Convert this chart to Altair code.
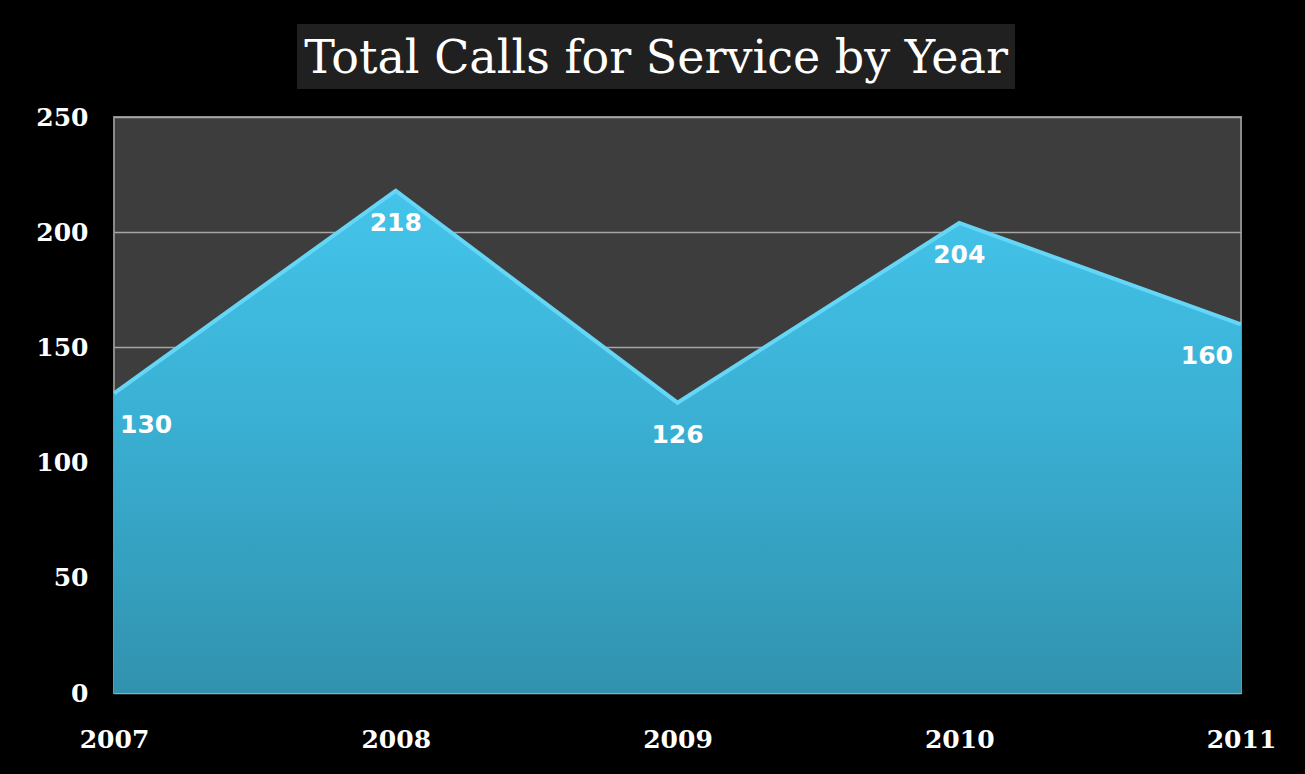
import altair as alt
import pandas as pd

years = ["2007", "2008", "2009", "2010", "2011"]
calls = [130, 218, 126, 204, 160]
title_text = "Total Calls for Service by Year"

df = pd.DataFrame({"year": years, "calls": calls})

W, H = 1127, 576

xenc = alt.X("year:O", scale=alt.Scale(type="point", padding=0),
             axis=alt.Axis(title=None, labelAngle=0, ticks=False, domain=False,
                           labelPadding=34, grid=False))
yenc = alt.Y("calls:Q", scale=alt.Scale(domain=[0, 250], nice=False),
             axis=alt.Axis(title=None, values=[0, 50, 100, 150, 200, 250],
                           ticks=False, domain=False, labelPadding=26,
                           gridColor="#a6a6a6", gridWidth=1.3, gridOpacity=1))

base = alt.Chart(df)

area = base.mark_area(
    color=alt.Gradient(
        gradient="linear",
        stops=[alt.GradientStop(color="#44c4ea", offset=0),
               alt.GradientStop(color="#3ab0d4", offset=0.45),
               alt.GradientStop(color="#3192ae", offset=1)],
        x1=0, x2=0, y1=0, y2=1),
    opacity=1
).encode(x=xenc, y=yenc)

edge = base.mark_line(color="#66d6f6", strokeWidth=4).encode(
    x=alt.X("year:O", scale=alt.Scale(type="point", padding=0)),
    y=alt.Y("calls:Q"))

lab_font = dict(font="DejaVu Sans", fontSize=25, fontWeight="bold", color="white",
                baseline="middle", dy=32)
lab_first = base.transform_filter(alt.datum.year == years[0]).mark_text(
    align="left", dx=6, **lab_font).encode(x="year:O", y="calls:Q", text="calls:Q")
lab_mid = base.transform_filter(
    (alt.datum.year != years[0]) & (alt.datum.year != years[-1])).mark_text(
    align="center", **lab_font).encode(x="year:O", y="calls:Q", text="calls:Q")
lab_last = base.transform_filter(alt.datum.year == years[-1]).mark_text(
    align="right", dx=-8, **lab_font).encode(x="year:O", y="calls:Q", text="calls:Q")

tdf = pd.DataFrame({"t": [title_text]})
title_box = alt.Chart(tdf).mark_rect(color="#202020").encode(
    x=alt.value(183), x2=alt.value(901), y=alt.value(-93), y2=alt.value(-28))
title = alt.Chart(tdf).mark_text(
    font="DejaVu Serif", fontSize=46, color="white", align="center",
    baseline="alphabetic").encode(text="t:N", x=alt.value(542), y=alt.value(-44))

chart = alt.layer(area, edge, lab_first, lab_mid, lab_last, title_box, title).properties(
    width=W, height=H,
    autosize=alt.AutoSizeParams(type="none"),
    padding={"left": 114, "top": 117, "right": 64, "bottom": 81},
    background="black",
).configure_view(
    fill="#3d3d3d", stroke="#8a8a8a", strokeWidth=2
).configure_axis(
    labelColor="white", labelFont="DejaVu Serif", labelFontSize=25,
    labelFontWeight="bold"
)

chart.save("out.html", embed_options={"renderer": "svg", "actions": False})
